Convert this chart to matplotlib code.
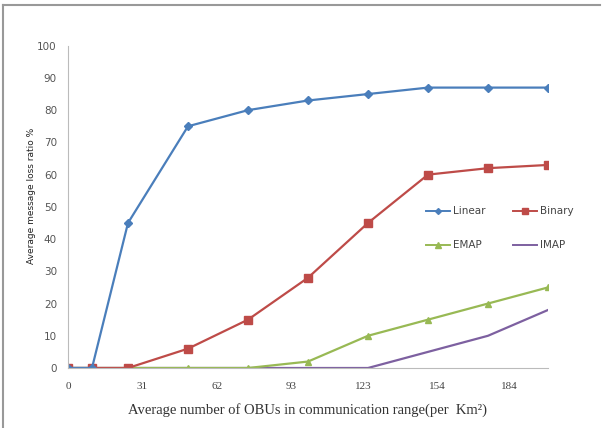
import matplotlib
matplotlib.use('Agg')
import matplotlib.pyplot as plt
from matplotlib.lines import Line2D

# OBU counts and loss ratios (%)
obus = [0, 10, 25, 50, 75, 100, 125, 150, 175, 200]
linear = [0, 0, 45, 75, 80, 83, 85, 87, 87, 87]
binary = [0, 0, 0, 6, 15, 28, 45, 60, 62, 63]
emap = [0, 0, 0, 0, 0, 2, 10, 15, 20, 25]
imap = [0, 0, 0, 0, 0, 0, 0, 5, 10, 18]
xtick_vals = [0, 31, 62, 93, 123, 154, 184]
ytick_vals = list(range(0, 101, 10))

fig = plt.figure(figsize=(6.08, 4.28), dpi=100)
ax = fig.add_axes([68/608, 1-368/428, (548-68)/608, (368-45.7)/428])

ax.plot(obus, imap, color='#7d60a0', lw=1.6, label='IMAP')
ax.plot(obus, emap, color='#98b954', lw=1.6, marker='^', ms=5, label='EMAP')
ax.plot(obus, binary, color='#be4b48', lw=1.6, marker='s', ms=5.5, label='Binary')
ax.plot(obus, linear, color='#4a7ebb', lw=1.6, marker='D', ms=4, label='Linear')

ax.set_xlim(0, 200)
ax.set_ylim(0, 100)
ax.set_xticks(xtick_vals)
ax.set_yticks(ytick_vals)
ax.tick_params(length=0, colors='#444444')
for t in ax.get_xticklabels():
    t.set_fontfamily('Liberation Serif')
    t.set_fontsize(8)
for t in ax.get_yticklabels():
    t.set_fontsize(7.5)
    t.set_color('#555555')
ax.tick_params(axis='x', pad=10)
ax.tick_params(axis='y', pad=8)
for s in ['top', 'right']:
    ax.spines[s].set_visible(False)
ax.spines['left'].set_color('#bbbbbb')
ax.spines['bottom'].set_color('#bbbbbb')
ax.patch.set_alpha(0)

ax.set_xlabel('Average number of OBUs in communication range(per  Km\u00b2)',
              fontfamily='Liberation Serif', fontsize=10.5, color='#333333', labelpad=9)
fig.text(32/608, 1-196/428, 'Average message loss ratio %', rotation=90,
         ha='center', va='center', fontsize=6.5, color='#222222')

handles = [
    Line2D([], [], color='#4a7ebb', marker='D', ms=3, lw=1.4),
    Line2D([], [], color='#98b954', marker='^', ms=4, lw=1.4),
    Line2D([], [], color='#be4b48', marker='s', ms=4, lw=1.4),
    Line2D([], [], color='#7d60a0', lw=1.4),
]
fig.legend(handles, ['Linear', 'EMAP', 'Binary', 'IMAP'], ncol=2,
           loc='upper left', bbox_to_anchor=(417/608, 1-197/428), frameon=False,
           fontsize=7.5, handlelength=2.3, columnspacing=2.6, labelspacing=2.3,
           handletextpad=0.3, labelcolor='#444444')

# chart border (left and top only visible)
fig.add_artist(Line2D([3/608, 3/608], [0, 1-5/428], color='#999999', lw=1.5))
fig.add_artist(Line2D([3/608, 600/608], [1-5/428, 1-5/428], color='#999999', lw=1.5))

fig.savefig('out.png', dpi=100)
